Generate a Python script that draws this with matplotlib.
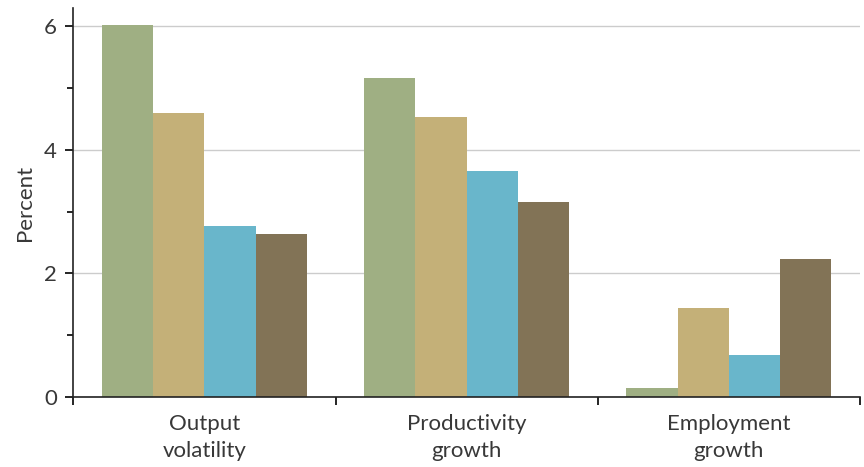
import numpy as np
import matplotlib
matplotlib.use("Agg")
import matplotlib.pyplot as plt
from matplotlib.ticker import FixedLocator

plt.rcParams['font.family'] = ['Lato', 'DejaVu Sans']

categories = ["Output\nvolatility", "Productivity\ngrowth", "Employment\ngrowth"]
series_a = [6.03, 5.17, 0.15]
series_b = [4.60, 4.54, 1.44]
series_c = [2.77, 3.66, 0.68]
series_d = [2.64, 3.16, 2.24]

colors = ["#9FAF83", "#C4B078", "#69B6CB", "#827356"]
text_color = "#383838"

fig, ax = plt.subplots(figsize=(8.64, 4.67), dpi=100)
fig.subplots_adjust(left=0.085, right=0.995, top=0.983, bottom=0.15)

x = np.arange(len(categories))
width = 0.195
for i, (vals, c) in enumerate(zip([series_a, series_b, series_c, series_d], colors)):
    ax.bar(x + (i - 1.5) * width, vals, width, color=c, zorder=2)

ax.set_xlim(-0.5, 2.5)
ax.set_ylim(0, 6.3)

ax.yaxis.set_major_locator(FixedLocator([0, 2, 4, 6]))
ax.yaxis.set_minor_locator(FixedLocator([1, 3, 5]))
ax.grid(axis='y', which='major', color='#cccccc', linewidth=1, zorder=0)

# group separators as major ticks, category names as minor labels
ax.xaxis.set_major_locator(FixedLocator([-0.5, 0.5, 1.5, 2.5]))
ax.xaxis.set_major_formatter(plt.NullFormatter())
ax.xaxis.set_minor_locator(FixedLocator(x))
ax.set_xticklabels(categories, minor=True, fontsize=16, color=text_color, linespacing=1.45)
ax.tick_params(axis='x', which='minor', length=0, pad=12)
ax.tick_params(axis='x', which='major', length=6, width=1.2, direction='out')

ax.tick_params(axis='y', which='major', length=6, width=1.2, labelsize=16, labelcolor=text_color, pad=6)
ax.tick_params(axis='y', which='minor', length=4, width=1.2)

for s in ['top', 'right']:
    ax.spines[s].set_visible(False)
for s in ['left', 'bottom']:
    ax.spines[s].set_linewidth(1.2)
    ax.spines[s].set_color('#222222')

ax.set_ylabel("Percent", fontsize=16, color=text_color, labelpad=6)

fig.savefig("out.png", dpi=100)
